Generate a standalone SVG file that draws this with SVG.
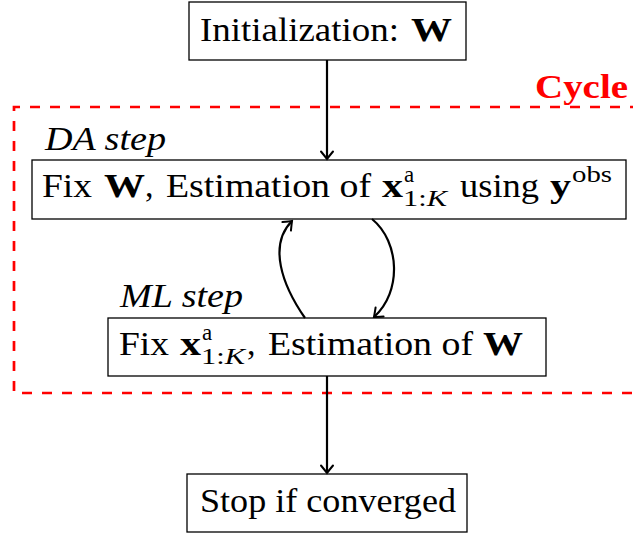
<svg xmlns="http://www.w3.org/2000/svg" width="633" height="536" viewBox="0 0 633 536" font-family="Liberation Serif, Tinos, Times New Roman, DejaVu Serif, serif">
  <defs>
    <style>
      .box { fill: #ffffff; stroke: #000000; stroke-width: 1.3; }
      .t { font-size: 34px; fill: #000000; }
      .lbl { font-size: 34px; font-style: italic; fill: #000000; }
      .b { font-weight: bold; }
      .i { font-style: italic; }
      .s { font-size: 23px; fill: #000000; }
      .edge { fill: none; stroke: #000000; stroke-width: 2.2; }
      .cycle { fill: none; stroke: #ff0000; stroke-width: 2.7; stroke-dasharray: 10 10; }
      .ctext { font-size: 34px; font-weight: bold; fill: #ff0000; }
    </style>
    <marker id="arrow" viewBox="-9 -8 11 16" markerWidth="11" markerHeight="16" refX="0" refY="0" orient="auto" markerUnits="userSpaceOnUse">
      <path d="M-7.5,-6 Q-2,-1.5 0,0 Q-2,1.5 -7.5,6" fill="none" stroke="#000000" stroke-width="2" stroke-linecap="round"/>
    </marker>
  </defs>

  <!-- dashed frame of the iteration loop, open to the right -->
  <g id="cycle">
    <path class="cycle" d="M640,107 H14 V393 H640"/>
    <text class="ctext" x="535" y="98" textLength="93" lengthAdjust="spacingAndGlyphs">Cycle</text>
  </g>

  <g id="init">
    <rect class="box" x="189" y="2" width="277" height="58"/>
    <text class="t" x="200" y="41" textLength="199" lengthAdjust="spacingAndGlyphs">Initialization:</text>
    <text class="t b" x="411" y="41" textLength="41" lengthAdjust="spacingAndGlyphs">W</text>
  </g>

  <g id="da">
    <text class="lbl" x="45" y="150" textLength="121" lengthAdjust="spacingAndGlyphs">DA step</text>
    <rect class="box" x="32" y="160" width="594" height="59"/>
    <text class="t" x="42" y="197" textLength="50" lengthAdjust="spacingAndGlyphs">Fix</text>
    <text class="t b" x="104" y="197" textLength="41" lengthAdjust="spacingAndGlyphs">W</text>
    <text class="t" x="145" y="197">,</text>
    <text class="t" x="166" y="197" textLength="205" lengthAdjust="spacingAndGlyphs">Estimation of</text>
    <text class="t b" x="382" y="197" textLength="21" lengthAdjust="spacingAndGlyphs">x</text>
    <text class="s" x="404" y="182">a</text>
    <text class="s" x="403" y="206" textLength="44" lengthAdjust="spacingAndGlyphs">1:<tspan class="i">K</tspan></text>
    <text class="t" x="460" y="197" textLength="79" lengthAdjust="spacingAndGlyphs">using</text>
    <text class="t b" x="550" y="197" textLength="21" lengthAdjust="spacingAndGlyphs">y</text>
    <text class="s" x="572" y="182" textLength="40" lengthAdjust="spacingAndGlyphs">obs</text>
  </g>

  <g id="ml">
    <text class="lbl" x="120" y="307" textLength="123" lengthAdjust="spacingAndGlyphs">ML step</text>
    <rect class="box" x="108" y="318" width="438" height="58"/>
    <text class="t" x="119" y="355" textLength="50" lengthAdjust="spacingAndGlyphs">Fix</text>
    <text class="t b" x="180" y="355" textLength="21" lengthAdjust="spacingAndGlyphs">x</text>
    <text class="s" x="202" y="340">a</text>
    <text class="s" x="201" y="364" textLength="44" lengthAdjust="spacingAndGlyphs">1:<tspan class="i">K</tspan></text>
    <text class="t" x="247" y="355">,</text>
    <text class="t" x="268" y="355" textLength="205" lengthAdjust="spacingAndGlyphs">Estimation of</text>
    <text class="t b" x="483" y="355" textLength="40" lengthAdjust="spacingAndGlyphs">W</text>
  </g>

  <g id="stop">
    <rect class="box" x="187" y="474" width="280" height="58"/>
    <text class="t" x="200" y="512" textLength="256" lengthAdjust="spacingAndGlyphs">Stop if converged</text>
  </g>

  <g id="connectors">
    <path class="edge" d="M327,60 V159" marker-end="url(#arrow)"/>
    <path class="edge" d="M327,376 V473" marker-end="url(#arrow)"/>
    <path class="edge" d="M305,318 C282,285 268,245 292,221" marker-end="url(#arrow)"/>
    <path class="edge" d="M372,219 C400,242 402,292 374,317" marker-end="url(#arrow)"/>
  </g>
</svg>
